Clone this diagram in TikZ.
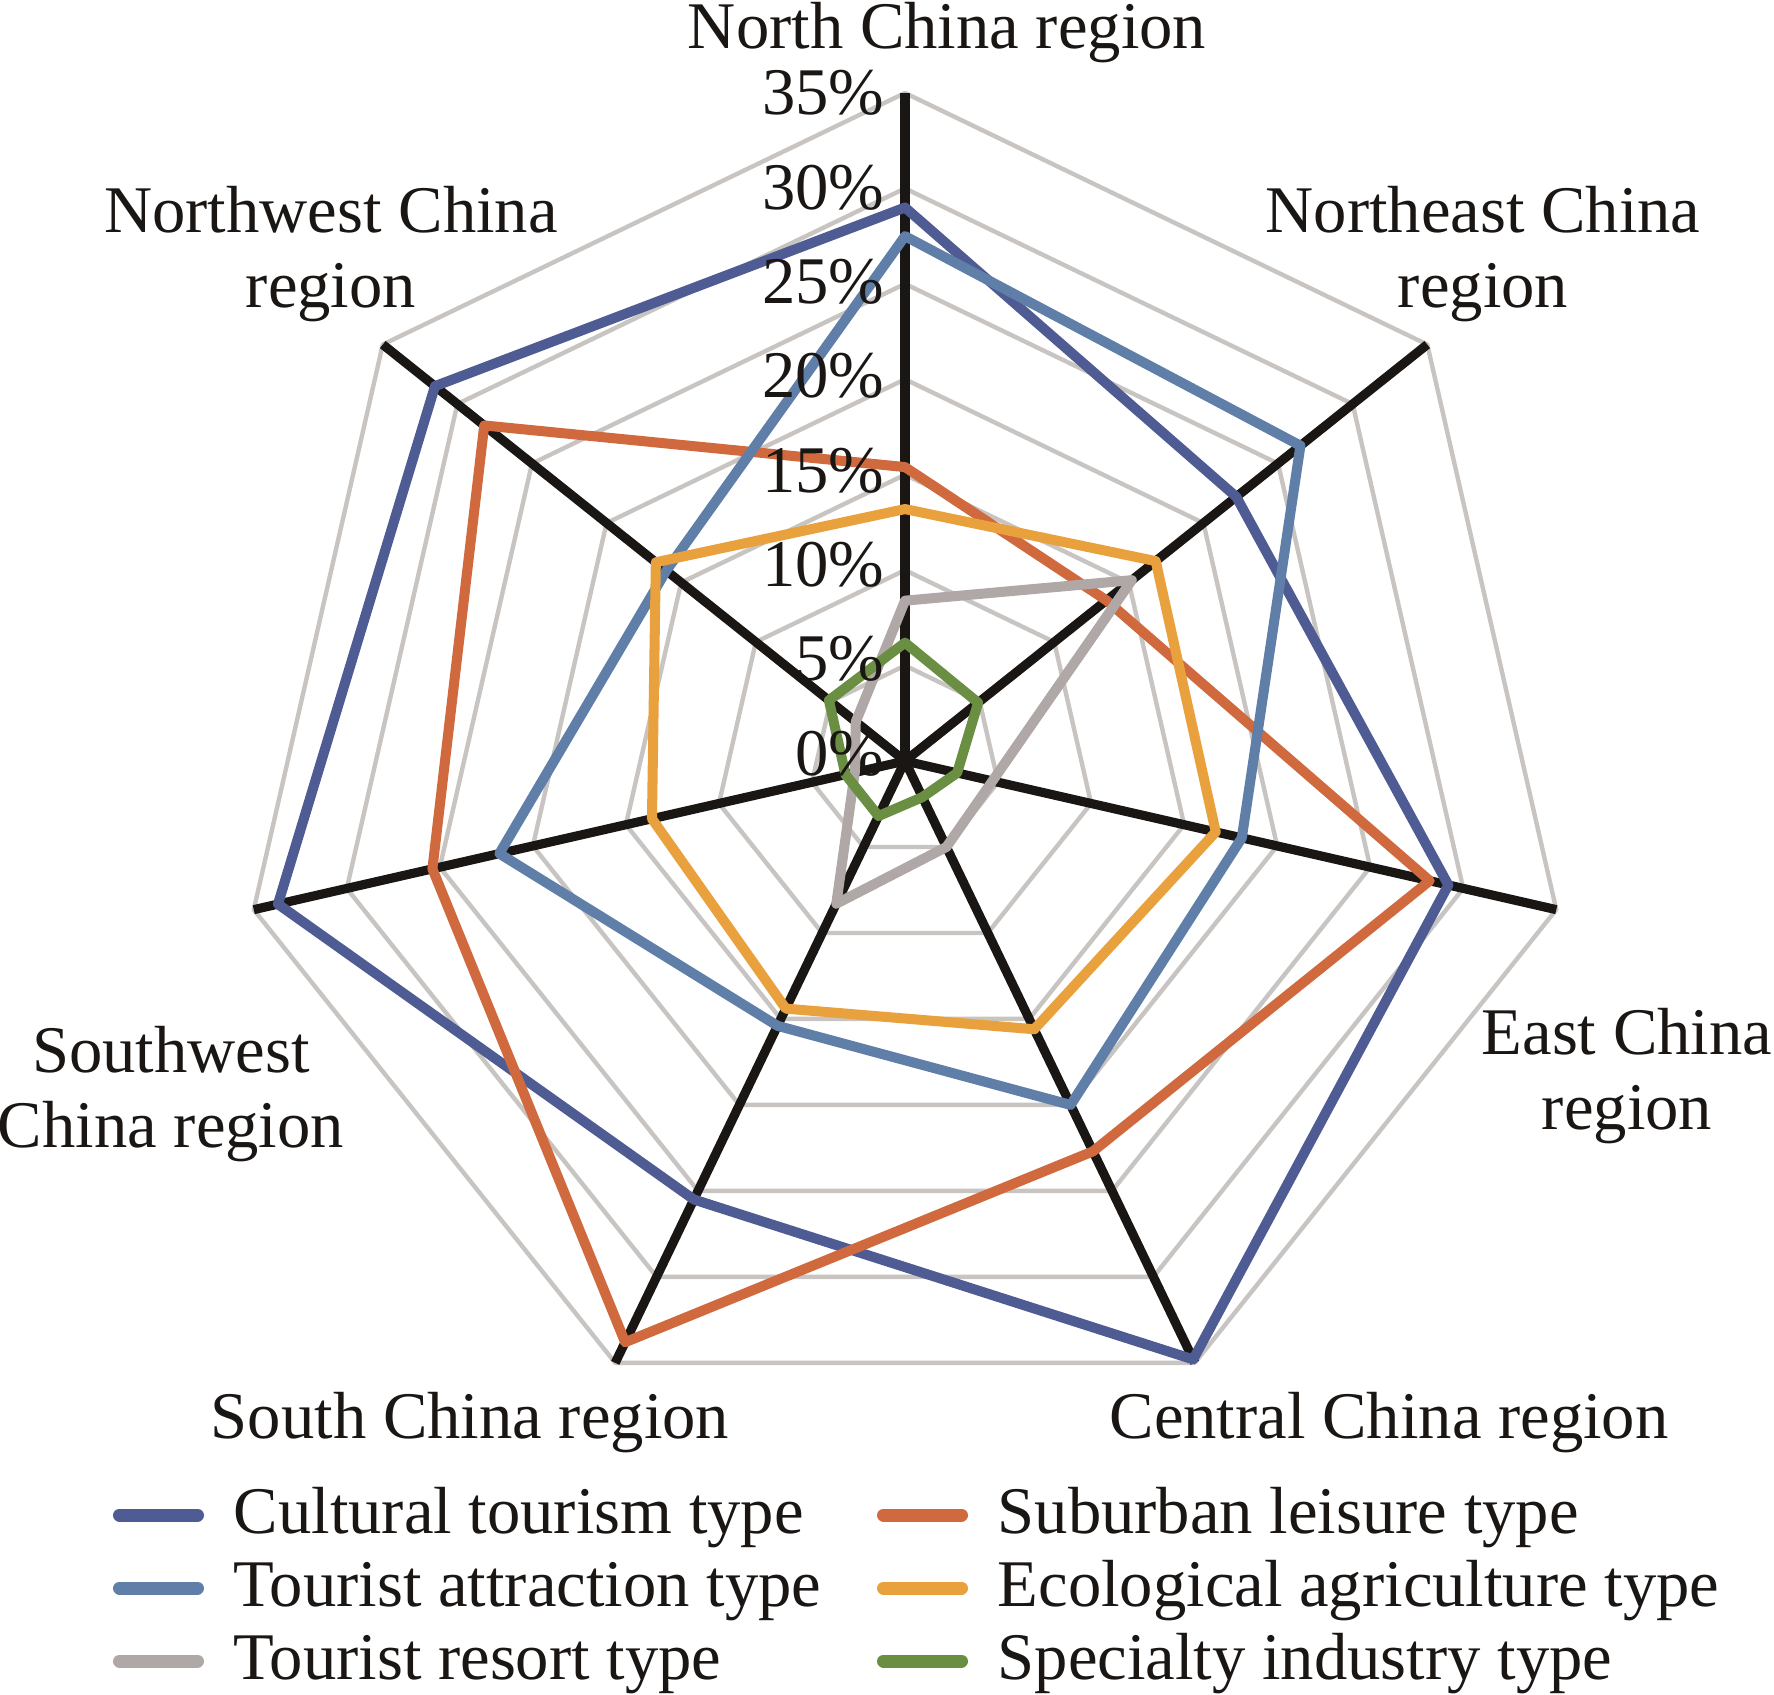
\documentclass[tikz,border=0pt]{standalone}
\usepackage{fontspec}
\setmainfont{Liberation Serif}
\usepackage{tikz}
\definecolor{culturecol}{RGB}{79,91,147}
\definecolor{suburbcol}{RGB}{208,106,62}
\definecolor{attractcol}{RGB}{95,127,168}
\definecolor{ecocol}{RGB}{232,161,61}
\definecolor{resortcol}{RGB}{175,168,166}
\definecolor{specialcol}{RGB}{106,142,66}
\definecolor{gridcol}{RGB}{200,196,193}
\definecolor{axiscol}{RGB}{26,22,20}
\newcommand\radarpct{19.086} % one percent, in picture units
\newcommand\radarseries[2]{%
  \foreach \v [count=\i] in {#2}
    \coordinate (#1-\i) at ({90-(\i-1)*360/7}:\v*\radarpct);
  \draw[#1] (#1-1) \foreach \i in {2,...,7}{ -- (#1-\i)} -- cycle;
}
\tikzset{
  radar/.style={
    x=0.01cm, y=0.01cm, line join=round,
    every node/.style={font=\fontsize{18.95pt}{21.05pt}\selectfont, text=axiscol, inner sep=0pt}
  },
  gridline/.style={draw=gridcol, line width=1.25pt},
  spoke/.style={draw=axiscol, line width=2.6pt},
  series/.style={line width=2.85pt},
  culture/.style={series, draw=culturecol},
  suburban/.style={series, draw=suburbcol},
  attraction/.style={series, draw=attractcol},
  ecological/.style={series, draw=ecocol},
  resort/.style={series, draw=resortcol},
  specialty/.style={series, draw=specialcol},
  legendkey/.style={line width=3.7pt, line cap=round},
  region/.style={align=center, anchor=base},
  ticklabel/.style={anchor=base east}
}
\begin{document}
\begin{tikzpicture}[radar]
  \useasboundingbox (0,0) rectangle (1774,-1694);
  \begin{scope}[shift={(905,-761)}]
    \coordinate (O) at (0,0);
    % grid and spokes
    \foreach \l in {1,...,7}
      \draw[gridline] (90:\l*5*\radarpct) \foreach \k in {1,...,6}{ -- ({90-\k*360/7}:\l*5*\radarpct)} -- cycle;
    \foreach \k in {0,...,6}{
      \coordinate (ax\k) at ({90-\k*360/7}:35*\radarpct);
      \draw[spoke] (O) -- (ax\k);
    }
    % N, NE, E, C, S, SW, NW
    \radarseries{culture}{29.0,22.2,29.2,34.8,25.5,33.7,31.5}
    \radarseries{suburban}{15.4,13.5,28.2,22.7,33.8,25.4,28.2}
    \radarseries{attraction}{27.5,26.5,18.1,20.0,15.4,21.8,16.0}
    \radarseries{ecological}{13.2,16.8,16.7,15.6,14.4,13.6,16.7}
    \radarseries{resort}{8.4,15.2,4.7,5.0,8.3,2.7,3.3}
    \radarseries{specialty}{6.2,4.9,2.8,2.1,3.2,3.2,5.1}
    \foreach \l in {0,...,7}
      \node[ticklabel] (tick\l) at (-20,{-14+94.3*\l}) {\the\numexpr5*\l\relax\%};
  \end{scope}
  % region labels (base = last line)
  \node[region] (north) at (947,-49) {North China region};
  \node[region] (northeast) at (1483,-307) {Northeast China\\region};
  \node[region] (east) at (1627,-1129) {East China\\region};
  \node[region] (central) at (1389,-1438) {Central China region};
  \node[region] (south) at (470,-1438) {South China region};
  \node[region] (southwest) at (171,-1147) {Southwest\\China region};
  \node[region] (northwest) at (331,-307) {Northwest China\\region};
  % legend
  \foreach \txt/\sty/\kx/\ky [count=\n] in {Cultural tourism type/culture/113/1515,
      Tourist attraction type/attraction/113/1588,
      Tourist resort type/resort/113/1661,
      Suburban leisure type/suburban/877/1515,
      Ecological agriculture type/ecological/877/1588,
      Specialty industry type/specialty/877/1661}{
    \coordinate (key\n-a) at (\kx+6.5,-\ky);
    \coordinate (key\n-b) at (\kx+84.5,-\ky);
    \draw[\sty, legendkey] (key\n-a) -- (key\n-b);
    \node[anchor=base west] (entry\n) at (\kx+120,-\ky-18) {\txt};
  }
\end{tikzpicture}
\end{document}
